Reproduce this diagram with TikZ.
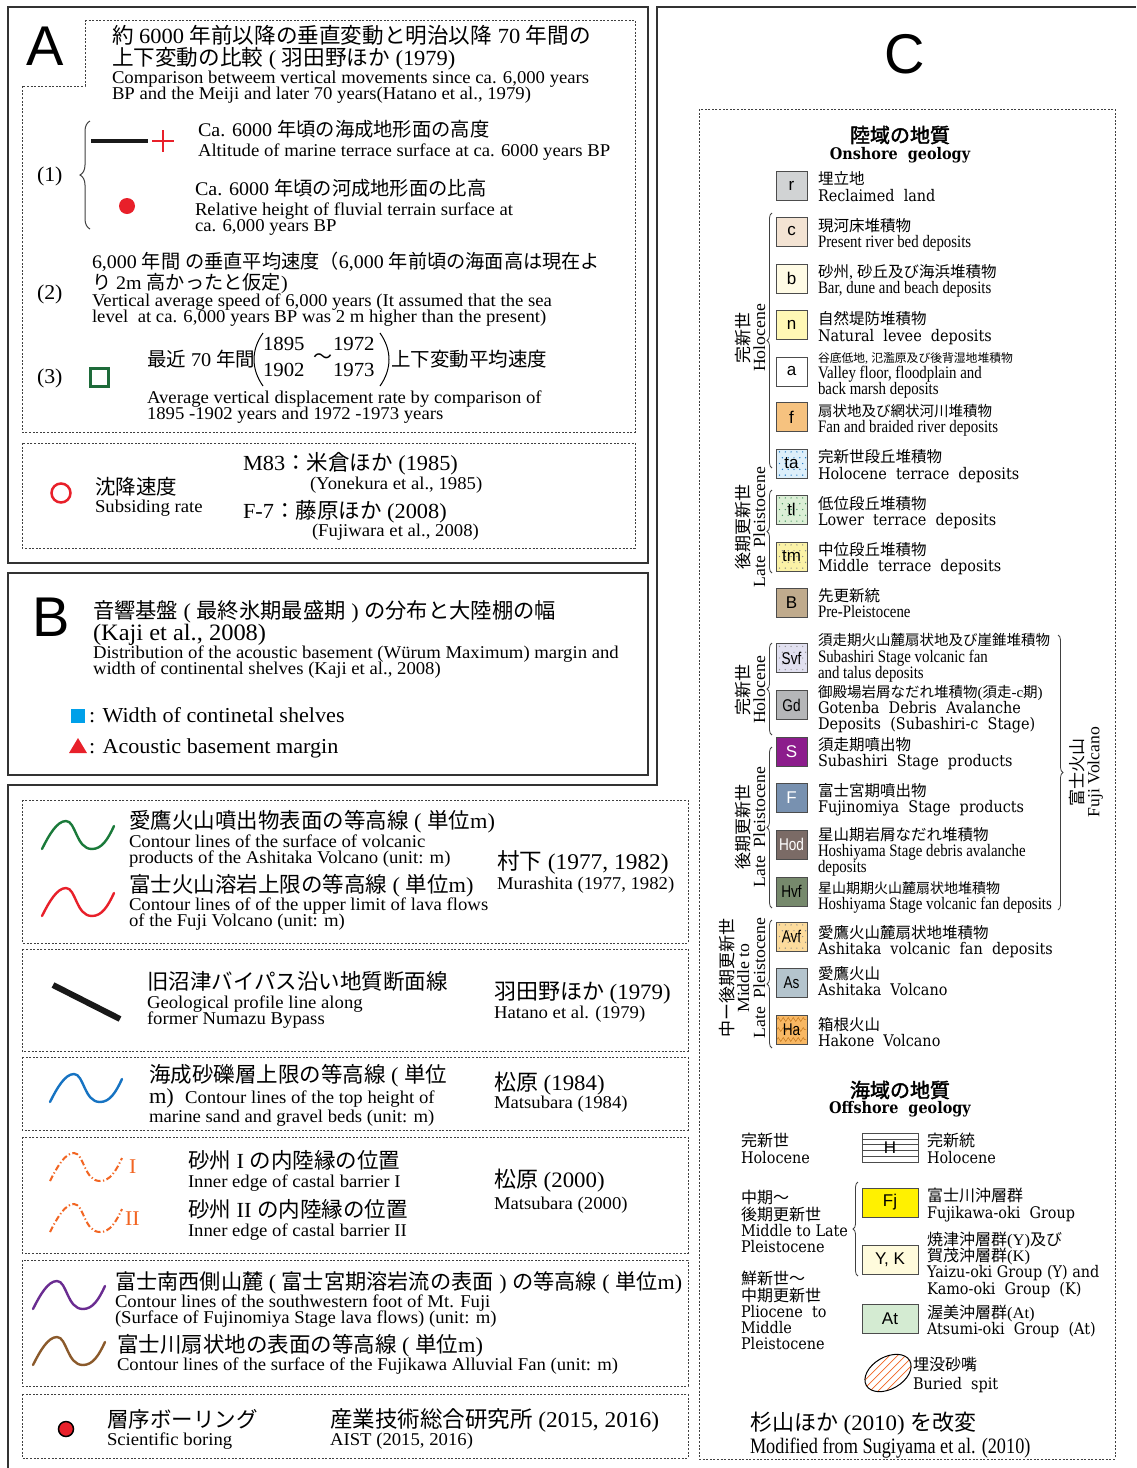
\documentclass[tikz,border=0pt]{standalone}
\usepackage{fontspec}
\setmainfont{Liberation Serif}[FakeStretch=1.04]
\newfontfamily\jpfont{Noto Sans CJK JP}[BoldFont={Noto Sans CJK JP},BoldFeatures={FakeBold=2}]
\newfontfamily\engfont{Liberation Serif}[FakeStretch=1.04]
\newfontfamily\condfont{Liberation Serif}[FakeStretch=0.85]
\newfontfamily\condbfont{Liberation Serif}[FakeStretch=0.83]
\newfontfamily\widefont{DejaVu Serif}[FakeStretch=0.9]
\newfontfamily\lsans{Liberation Sans}
\newfontfamily\lsansc{Liberation Sans}[FakeStretch=0.8]
\usetikzlibrary{decorations.pathreplacing,decorations.pathmorphing}
% automatic switch to the Japanese font for CJK characters
\XeTeXinterchartokenstate=1
\newXeTeXintercharclass\cjkcls
\newcount\cjkc
\def\setcjk#1#2{\cjkc=#1 \loop\XeTeXcharclass\cjkc=\cjkcls \ifnum\cjkc<#2 \advance\cjkc by 1 \repeat}
\setcjk{"3000}{"30FF}
\setcjk{"4E00}{"9FFF}
\setcjk{"FF00}{"FFEF}
\makeatletter
\XeTeXinterchartoks 0 \cjkcls = {\edef\cjksaved{\f@family}\jpfont}
\XeTeXinterchartoks 4095 \cjkcls = {\edef\cjksaved{\f@family}\jpfont}
\XeTeXinterchartoks \cjkcls 0 = {\fontfamily{\cjksaved}\selectfont}
\XeTeXinterchartoks \cjkcls 4095 = {\fontfamily{\cjksaved}\selectfont}
\makeatother
\definecolor{cR}{HTML}{D1D3D4}
\definecolor{cC}{HTML}{F3E3D3}
\definecolor{cB}{HTML}{FFFBE5}
\definecolor{cN}{HTML}{FFF8B5}
\definecolor{cF}{HTML}{F6C27F}
\definecolor{cTa}{HTML}{DDEFFA}
\definecolor{cTl}{HTML}{DCEFD6}
\definecolor{cTm}{HTML}{FBF2A6}
\definecolor{cBB}{HTML}{C0AB8D}
\definecolor{cSvf}{HTML}{E1E0F0}
\definecolor{cGd}{HTML}{B5B6B8}
\definecolor{cS}{HTML}{8C1D8C}
\definecolor{cFF}{HTML}{7891B0}
\definecolor{cHod}{HTML}{7B6B66}
\definecolor{cHvf}{HTML}{76896C}
\definecolor{cAvf}{HTML}{FCDB9C}
\definecolor{cAs}{HTML}{B4C4CD}
\definecolor{cHa}{HTML}{F8B864}
\definecolor{cHaz}{HTML}{C77A20}
\definecolor{cFj}{HTML}{FFF100}
\definecolor{cYK}{HTML}{FFFBDC}
\definecolor{cAt}{HTML}{D4EBD2}
\definecolor{wGreen}{HTML}{1A7A3A}
\definecolor{wRed}{HTML}{E8202A}
\definecolor{wBlue}{HTML}{1673C2}
\definecolor{wOrange}{HTML}{F26522}
\definecolor{wPurple}{HTML}{6A2C91}
\definecolor{wBrown}{HTML}{8B5A2B}
\definecolor{sqGreen}{HTML}{1E6B3A}
\definecolor{shelfBlue}{HTML}{00A0E9}
\newcounter{tn}
\newcommand\T[4]{\stepcounter{tn}\node[lbl,font=#3] (t\arabic{tn}) at (#1,#2) {#4};}
\newcommand\fJ[1]{\fontsize{#1}{#1}\selectfont}
\newcommand\fE{\engfont\fontsize{18}{18}\selectfont}
\newcommand\fC{\condfont\fontsize{17.5}{17.5}\selectfont}
\newcommand\fW{\widefont\fontsize{16}{16}\selectfont}
\newcommand\wave[3]{\begin{scope}[shift={(#1,#2)}]\draw[wv,#3] (0,28) .. controls (7,14) and (15,0) .. (24,0) .. controls (34,0) and (34,28) .. (50,28) .. controls (60,28) and (66,18) .. (72,5);\end{scope}}
\newcommand\gbx[6]{\fill[#3] (776,{#2-14.5}) rectangle (807,{#2+14.5}); #6 \node[gbox,text=#4] (#1) at (791.5,#2) {#5};}
\newcommand\dts[2]{\foreach \i in {0,...,4}{\foreach \j in {0,...,4}{\fill[#2] ({779.5+\i*5.8+mod(\j,2)*2.9},{#1-11.6+\j*5.8}) circle (0.7pt);}}}
\begin{document}
\begin{tikzpicture}[x=1pt,y=-1pt,
  lbl/.style={anchor=mid west,inner sep=0pt,outer sep=0pt,yshift=-4.5pt},
  dbox/.style={draw=black!75,line width=0.8pt,dash pattern=on 2pt off 1.6pt},
  frm/.style={draw=black!80,line width=1.4pt},
  gbox/.style={draw=black!70,line width=0.9pt,minimum width=31pt,minimum height=29pt,inner sep=0pt,font=\lsans\fontsize{17}{17}\selectfont},
  obox/.style={draw=black!70,line width=0.9pt,minimum width=56pt,minimum height=29pt,inner sep=0pt,font=\lsans\fontsize{17}{17}\selectfont},
  brc/.style={decorate,decoration={brace,amplitude=5pt},draw=black!75,line width=0.8pt},
  wv/.style={line width=2.4pt,line cap=round},
  rot/.style={rotate=90,align=center,inner sep=0pt,font=\engfont\fontsize{17}{16}\selectfont},
]
\useasboundingbox (0,0) rectangle (1136,1468);
\fill[white] (0,0) rectangle (1136,1468);

% ---------------- frames ----------------
\draw[frm] (8,7) rectangle (648,563);
\draw[frm] (8,573) rectangle (648,775);
\draw[frm] (8,1468) -- (8,785) -- (657,785) -- (657,7) -- (1136,7);

% ---------------- panel A ----------------
\node[font=\lsans\fontsize{56}{56}\selectfont,inner sep=0pt] (labA) at (45,46) {A};
\draw[dbox] (85,20) -- (635,20) -- (635,432) -- (22,432) -- (22,86) -- (85,86) -- cycle;
\draw[dbox] (22,443) rectangle (635,548);
\T{112}{37}{\fJ{21.6}}{約 6000 年前以降の垂直変動と明治以降 70 年間の}
\T{112}{59}{\fJ{21.6}}{上下変動の比較 ( 羽田野ほか (1979)}
\T{112}{77}{\fE}{Comparison betweem vertical movements since ca. 6,000 years}
\T{112}{93}{\fE}{BP and the Meiji and later 70 years(Hatano et al., 1979)}
\T{37}{175}{\fJ{21}}{(1)}
\draw[brc,decoration={brace,amplitude=10pt},line width=1pt] (90,229) -- (90,121);
\draw[line width=4pt,black!90] (91,141) -- (148,141);
\draw[wRed,line width=2pt] (152,141) -- (174,141) (163,130) -- (163,152);
\fill[wRed] (127,206) circle (8pt);
\T{198}{130}{\fJ{19.3}}{Ca. 6000 年頃の海成地形面の高度}
\T{198}{150}{\fE}{Altitude of marine terrace surface at ca. 6000 years BP}
\T{195}{189}{\fJ{19.3}}{Ca. 6000 年頃の河成地形面の比高}
\T{195}{209}{\fE}{Relative height of fluvial terrain surface at}
\T{195}{225}{\fE}{ca. 6,000 years BP}
\T{37}{293}{\fJ{21}}{(2)}
\T{92}{262}{\fJ{19.2}}{6,000 年間 の垂直平均速度（6,000 年前頃の海面高は現在よ}
\T{92}{283}{\fJ{19.2}}{り 2m 高かったと仮定)}
\T{92}{300}{\fE}{Vertical average speed of 6,000 years (It assumed that the sea}
\T{92}{316}{\fE}{level\ \ at ca. 6,000 years BP was 2 m higher than the present)}
\T{37}{377}{\fJ{21}}{(3)}
\draw[sqGreen,line width=3pt] (90,368) rectangle (108,386);
\T{147}{360}{\fJ{19.5}}{最近 70 年間}
\draw[line width=1pt] (263,333) .. controls (251,350) and (251,369) .. (263,386);
\draw[line width=1pt] (380,333) .. controls (392,350) and (392,369) .. (380,386);
\T{263}{344}{\fJ{20}}{1895}
\T{263}{370}{\fJ{20}}{1902}
\T{313}{357}{\fJ{19}}{〜}
\T{333}{344}{\fJ{20}}{1972}
\T{333}{370}{\fJ{20}}{1973}
\T{391}{360}{\fJ{19.5}}{上下変動平均速度}
\T{147}{397}{\fE}{Average vertical displacement rate by comparison of}
\T{147}{413}{\fE}{1895 -1902 years and 1972 -1973 years}
\draw[wRed,line width=2.5pt] (61,493) circle (9.5pt);
\T{95}{488}{\fJ{20.5}}{沈降速度}
\T{95}{506}{\fE}{Subsiding rate}
\T{243}{464}{\fJ{21.5}}{M83：米倉ほか (1985)}
\T{310}{483}{\fE}{(Yonekura et al., 1985)}
\T{243}{512}{\fJ{21.5}}{F-7：藤原ほか (2008)}
\T{312}{530}{\fE}{(Fujiwara et al., 2008)}

% ---------------- panel B ----------------
\node[font=\lsans\fontsize{56}{56}\selectfont,inner sep=0pt] (labB) at (51,617) {B};
\T{93}{612}{\fJ{21.3}}{音響基盤 ( 最終氷期最盛期 ) の分布と大陸棚の幅}
\T{93}{634}{\fJ{23.5}}{(Kaji et al., 2008)}
\T{93}{652}{\fE}{Distribution of the acoustic basement (Würum Maximum) margin and}
\T{93}{668}{\fE}{width of continental shelves (Kaji et al., 2008)}
\fill[shelfBlue] (71,709) rectangle (85,723);
\T{89}{716}{\fJ{21.3}}{: Width of continetal shelves}
\fill[wRed] (69,753) -- (87,753) -- (78,738) -- cycle;
\T{89}{747}{\fJ{21.3}}{: Acoustic basement margin}

% ---------------- lower left boxes ----------------
\draw[dbox] (22,800) rectangle (688,943);
\draw[dbox] (22,949) rectangle (688,1051);
\draw[dbox] (22,1057) rectangle (688,1130);
\draw[dbox] (22,1137) rectangle (688,1253);
\draw[dbox] (22,1260) rectangle (688,1386);
\draw[dbox] (22,1394) rectangle (688,1458);
\wave{42}{821}{wGreen}
\wave{42}{888}{wRed}
\T{129}{822}{\fJ{21.5}}{愛鷹火山噴出物表面の等高線 ( 単位m)}
\T{129}{841}{\fE}{Contour lines of the surface of volcanic}
\T{129}{857}{\fE}{products of the Ashitaka Volcano (unit: m)}
\T{129}{886}{\fJ{21.5}}{富士火山溶岩上限の等高線 ( 単位m)}
\T{129}{904}{\fE}{Contour lines of of the upper limit of lava flows}
\T{129}{920}{\fE}{of the Fuji Volcano (unit: m)}
\T{497}{863}{\fJ{22.5}}{村下 (1977, 1982)}
\T{497}{883}{\fE}{Murashita (1977, 1982)}
\draw[line width=6pt,black!90] (53,985) -- (120,1019);
\T{147}{983}{\fJ{21.5}}{旧沼津バイパス沿い地質断面線}
\T{147}{1002}{\fE}{Geological profile line along}
\T{147}{1018}{\fE}{former Numazu Bypass}
\T{494}{993}{\fJ{22}}{羽田野ほか (1979)}
\T{494}{1012}{\fE}{Hatano et al. (1979)}
\wave{50}{1074}{wBlue}
\T{149}{1076}{\fJ{21.5}}{海成砂礫層上限の等高線 ( 単位}
\T{149}{1097}{\fJ{21.5}}{m)\ \ {\fE Contour lines of the top height of}}
\T{149}{1116}{\fE}{marine sand and gravel beds (unit: m)}
\T{494}{1084}{\fJ{22}}{松原 (1984)}
\T{494}{1102}{\fE}{Matsubara (1984)}
\wave{50}{1153}{wOrange,line width=2pt,dash pattern=on 6pt off 2.5pt on 1.2pt off 2.5pt,line cap=butt}
\wave{50}{1204}{wOrange,line width=2pt,dash pattern=on 6pt off 2.5pt on 1.2pt off 2.5pt,line cap=butt}
\T{129}{1167}{\fJ{21}\color{wOrange}}{I}
\T{125}{1219}{\fJ{21}\color{wOrange}}{II}
\T{188}{1162}{\fJ{21.5}}{砂州 I の内陸縁の位置}
\T{188}{1181}{\fE}{Inner edge of castal barrier I}
\T{188}{1211}{\fJ{21.5}}{砂州 II の内陸縁の位置}
\T{188}{1230}{\fE}{Inner edge of castal barrier II}
\T{494}{1181}{\fJ{22}}{松原 (2000)}
\T{494}{1203}{\fE}{Matsubara (2000)}
\wave{33}{1281}{wPurple}
\wave{33}{1337}{wBrown}
\T{115}{1283}{\fJ{21.2}}{富士南西側山麓 ( 富士宮期溶岩流の表面 ) の等高線 ( 単位m)}
\T{115}{1301}{\fE}{Contour lines of the southwestern foot of Mt. Fuji}
\T{115}{1317}{\fE}{(Surface of Fujinomiya Stage lava flows) (unit: m)}
\T{117}{1346}{\fJ{21.5}}{富士川扇状地の表面の等高線 ( 単位m)}
\T{117}{1364}{\fE}{Contour lines of the surface of the Fujikawa Alluvial Fan (unit: m)}
\filldraw[fill=wRed,draw=black,line width=1.5pt] (66,1429) circle (7.5pt);
\T{107}{1421}{\fJ{21.5}}{層序ボーリング}
\T{107}{1439}{\fE}{Scientific boring}
\T{330}{1421}{\fJ{22.5}}{産業技術総合研究所 (2015, 2016)}
\T{330}{1439}{\fE}{AIST (2015, 2016)}

% ---------------- panel C ----------------
\node[font=\lsans\fontsize{56}{56}\selectfont,inner sep=0pt] (labC) at (905,54) {C};
\draw[dbox] (699,109) rectangle (1115,1459);
\node[font=\bfseries\fontsize{20}{20}\selectfont,inner sep=0pt] (onJ) at (900,135) {陸域の地質};
\node[font=\widefont\bfseries\fontsize{16}{16}\selectfont,inner sep=0pt] (onE) at (900,155) {Onshore\ \ geology};

\gbx{br}{185.5}{cR}{black}{r}{}
\gbx{bc}{231.5}{cC}{black}{c}{}
\gbx{bb}{278.5}{cB}{black}{b}{}
\gbx{bn}{324.5}{cN}{black}{n}{}
\gbx{ba}{371.5}{white}{black}{a}{}
\gbx{bf}{417}{cF}{black}{f}{}
\gbx{bta}{463.5}{cTa}{black}{ta}{\dts{463.5}{wBlue}}
\gbx{btl}{509.5}{cTl}{black}{tl}{\dts{509.5}{wGreen!80}}
\gbx{btm}{556.5}{cTm}{black}{tm}{\dts{556.5}{black!45}}
\gbx{bB}{602.5}{cBB}{black}{B}{}
\gbx{bSvf}{658}{cSvf}{black}{\lsansc Svf}{\dts{658}{black!40}}
\gbx{bGd}{705}{cGd}{black}{\lsansc Gd}{}
\gbx{bS}{751.5}{cS}{white}{S}{}
\gbx{bF}{797.5}{cFF}{white}{F}{}
\gbx{bHod}{844.5}{cHod}{white}{\lsansc Hod}{}
\gbx{bHvf}{891.5}{cHvf}{black}{\lsansc Hvf}{}
\gbx{bAvf}{936.5}{cAvf}{black}{\lsansc Avf}{\dts{936.5}{black!45}}
\gbx{bAs}{982.5}{cAs}{black}{\lsansc As}{}
\gbx{bHa}{1029.5}{cHa}{black}{\lsansc Ha}{\foreach \r in {-10,0,10}{\draw[cHaz,line width=0.5pt,decorate,decoration={zigzag,segment length=5pt,amplitude=2pt}] (777,{1029.5+\r}) -- (806,{1029.5+\r});}}

\T{818}{178}{\fJ{15.5}}{埋立地}
\T{818}{195}{\fW}{Reclaimed\ \ land}
\T{818}{225}{\fJ{15.5}}{現河床堆積物}
\T{818}{241}{\fC}{Present river bed deposits}
\T{818}{271}{\fJ{15.5}}{砂州, 砂丘及び海浜堆積物}
\T{818}{287}{\fC}{Bar, dune and beach deposits}
\T{818}{318}{\fJ{15.5}}{自然堤防堆積物}
\T{818}{335}{\fW}{Natural\ \ levee\ \ deposits}
\T{818}{356}{\fJ{11.8}}{谷底低地, 氾濫原及び後背湿地堆積物}
\T{818}{372}{\fC}{Valley floor, floodplain and}
\T{818}{388}{\fC}{back marsh deposits}
\T{818}{410}{\fJ{14.5}}{扇状地及び網状河川堆積物}
\T{818}{426}{\fC}{Fan and braided river deposits}
\T{818}{456}{\fJ{15.5}}{完新世段丘堆積物}
\T{818}{473}{\fW}{Holocene\ \ terrace\ \ deposits}
\T{818}{503}{\fJ{15.5}}{低位段丘堆積物}
\T{818}{519}{\fW}{Lower\ \ terrace\ \ deposits}
\T{818}{549}{\fJ{15.5}}{中位段丘堆積物}
\T{818}{565}{\fW}{Middle\ \ terrace\ \ deposits}
\T{818}{595}{\fJ{15.5}}{先更新統}
\T{818}{611}{\fC}{Pre-Pleistocene}
\T{818}{639}{\fJ{14.5}}{須走期火山麓扇状地及び崖錐堆積物}
\T{818}{656}{\fC}{Subashiri Stage volcanic fan}
\T{818}{672}{\fC}{and talus deposits}
\T{818}{691}{\fJ{14.5}}{御殿場岩屑なだれ堆積物(須走-c期)}
\T{818}{707}{\fW}{Gotenba\ \ Debris\ \ Avalanche}
\T{818}{723}{\fW}{Deposits\ \ (Subashiri-c\ \ Stage)}
\T{818}{744}{\fJ{15.5}}{須走期噴出物}
\T{818}{760}{\fW}{Subashiri\ \ Stage\ \ products}
\T{818}{790}{\fJ{15.5}}{富士宮期噴出物}
\T{818}{806}{\fW}{Fujinomiya\ \ Stage\ \ products}
\T{818}{834}{\fJ{15.5}}{星山期岩屑なだれ堆積物}
\T{818}{850}{\fC}{Hoshiyama Stage debris avalanche}
\T{818}{866}{\fC}{deposits}
\T{818}{887}{\fJ{14}}{星山期期火山麓扇状地堆積物}
\T{818}{903}{\fC}{Hoshiyama Stage volcanic fan deposits}
\T{818}{932}{\fJ{15.5}}{愛鷹火山麓扇状地堆積物}
\T{818}{948}{\fW}{Ashitaka\ \ volcanic\ \ fan\ \ deposits}
\T{818}{973}{\fJ{15.5}}{愛鷹火山}
\T{818}{989}{\fW}{Ashitaka\ \ Volcano}
\T{818}{1024}{\fJ{15.5}}{箱根火山}
\T{818}{1040}{\fW}{Hakone\ \ Volcano}

% braces and period labels
\draw[brc] (772,468) -- (772,213);
\draw[brc] (772,573) -- (772,490);
\draw[brc] (772,735) -- (772,643);
\draw[brc] (772,908) -- (772,747);
\draw[brc] (772,1048) -- (772,920);
\draw[brc] (1058,635) -- (1058,910);
\node[rot] (rHo1) at (750,338) {完新世\\Holocene};
\node[rot] (rLP1) at (750,527) {後期更新世\\Late\ \ Pleistocene};
\node[rot] (rHo2) at (750,690) {完新世\\Holocene};
\node[rot] (rLP2) at (750,827) {後期更新世\\Late\ \ Pleistocene};
\node[rot] (rML) at (742,978) {中ー後期更新世\\Middle to\\Late\ \ Pleistocene};
\node[rot] (rFuji) at (1086,772) {富士火山\\Fuji Volcano};

% ---------------- offshore ----------------
\node[font=\bfseries\fontsize{20}{20}\selectfont,inner sep=0pt] (offJ) at (900,1090) {海域の地質};
\node[font=\widefont\bfseries\fontsize{16}{16}\selectfont,inner sep=0pt] (offE) at (900,1109) {Offshore\ \ geology};
\T{741}{1140}{\fJ{16}}{完新世}
\T{741}{1157}{\fW}{Holocene}
\T{741}{1197}{\fJ{16}}{中期～}
\T{741}{1214}{\fJ{16}}{後期更新世}
\T{741}{1230}{\fW}{Middle\ to\ Late}
\T{741}{1246}{\fW}{Pleistocene}
\T{741}{1278}{\fJ{16}}{鮮新世～}
\T{741}{1295}{\fJ{16}}{中期更新世}
\T{741}{1311}{\fW}{Pliocene\ \ to}
\T{741}{1327}{\fW}{Middle}
\T{741}{1343}{\fW}{Pleistocene}
\fill[white] (862,1133) rectangle (918,1162);
\foreach \k in {1,...,4} {\draw[black!70,line width=0.6pt] (862,{1133+\k*5.8}) -- (918,{1133+\k*5.8});}
\node[obox] (oH) at (890,1147.5) {H};
\node[obox,fill=cFj] (oFj) at (890,1202.5) {Fj};
\node[obox,fill=cYK] (oYK) at (890,1259.5) {Y, K};
\node[obox,fill=cAt] (oAt) at (890,1318.5) {At};
\draw[brc] (858,1276) -- (858,1182);
\T{927}{1140}{\fJ{16}}{完新統}
\T{927}{1157}{\fW}{Holocene}
\T{927}{1195}{\fJ{16}}{富士川沖層群}
\T{927}{1212}{\fW}{Fujikawa-oki\ \ Group}
\T{927}{1239}{\fJ{16}}{焼津沖層群(Y)及び}
\T{927}{1255}{\fJ{16}}{賀茂沖層群(K)}
\T{927}{1271}{\fW}{Yaizu-oki Group (Y) and}
\T{927}{1288}{\fW}{Kamo-oki\ \ Group\ \ (K)}
\T{927}{1312}{\fJ{16}}{渥美沖層群(At)}
\T{927}{1328}{\fW}{Atsumi-oki\ \ Group\ \ (At)}
\begin{scope}[shift={(888,1373)}]
  \begin{scope}
    \clip[rotate=30] (0,0) ellipse (25 and 16);
    \foreach \k in {-32,-24,...,32} {\draw[wOrange,line width=0.7pt] ({\k-20},20) -- ({\k+20},-20);}
  \end{scope}
  \draw[black,line width=1pt,rotate=30] (0,0) ellipse (25 and 16);
\end{scope}
\T{913}{1364}{\fJ{16}}{埋没砂嘴}
\T{913}{1383}{\fW}{Buried\ \ spit}
\T{750}{1424}{\fJ{22}}{杉山ほか (2010) を改変}
\T{750}{1447}{\condbfont\fontsize{22}{22}\selectfont}{Modified from Sugiyama et al. (2010)}
\end{tikzpicture}
\end{document}
